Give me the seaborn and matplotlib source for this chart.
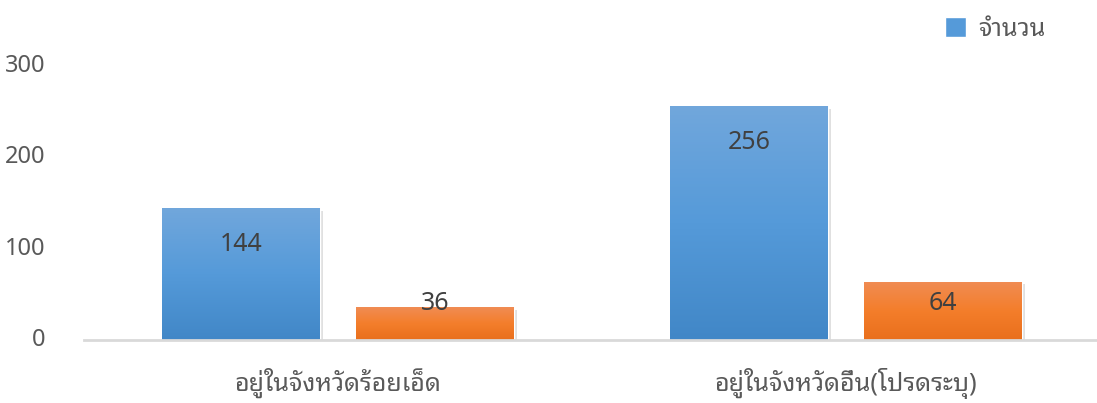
import numpy as np
import pandas as pd
import seaborn as sns
import matplotlib
matplotlib.use("Agg")
import matplotlib.pyplot as plt
import matplotlib.patheffects as pe
import matplotlib.transforms as mtransforms
from matplotlib.colors import LinearSegmentedColormap
from matplotlib.patches import Patch

# data
categories = ["อยู่ในจังหวัดร้อยเอ็ด", "อยู่ในจังหวัดอื่น(โปรดระบุ)"]
series = ["จำนวน", "ร้อยละ"]
counts = [144, 256]
percents = [36, 64]

df = pd.DataFrame({
    "ที่อยู่": categories * 2,
    "ค่า": counts + percents,
    "ชุด": [series[0]] * 2 + [series[1]] * 2,
})

sns.set_style("white")
plt.rcParams["font.family"] = ["Noto Sans Thai Looped", "Noto Sans", "DejaVu Sans"]

blue = "#559ad9"
orange = "#f27e2c"
grads = [
    LinearSegmentedColormap.from_list("b", ["#4187c7", "#559ad9", "#71a7dc"]),
    LinearSegmentedColormap.from_list("o", ["#e96f1c", "#f47e2b", "#f08c54"]),
]

fig = plt.figure(figsize=(10.97, 4.03), dpi=100)
ax = fig.add_axes([84 / 1097, 63 / 403, 1016 / 1097, 274 / 403])

sns.barplot(data=df, x="ที่อยู่", y="ค่า", hue="ชุด", hue_order=series,
            palette=[blue, orange], width=0.764, gap=0.186, legend=False,
            saturation=1, ax=ax)

# gradient fill + soft shadow
g = np.linspace(0, 1, 256).reshape(-1, 1)
for i, cont in enumerate(ax.containers):
    for p in cont.patches:
        p.set_path_effects([pe.SimplePatchShadow(offset=(2, -2), shadow_rgbFace="#000000", alpha=0.12), pe.Normal()])
        x0, w, h = p.get_x(), p.get_width(), p.get_height()
        im = ax.imshow(g, extent=[x0, x0 + w, 0, h], origin="lower", aspect="auto",
                       cmap=grads[i], zorder=p.get_zorder() + 0.1)
        im.set_clip_path(p)

# data labels: blue inside end, orange near base
for i, cont in enumerate(ax.containers):
    for p, v in zip(cont.patches, cont.datavalues):
        xc = p.get_x() + p.get_width() / 2
        if i == 0:
            ax.annotate(f"{v:.0f}", (xc, p.get_height()), xytext=(0, -36), textcoords="offset pixels",
                        ha="center", va="center", fontsize=18, color="#404040", zorder=5)
        else:
            ax.annotate(f"{v:.0f}", (xc, 0), xytext=(0, 36), textcoords="offset pixels",
                        ha="center", va="center", fontsize=18, color="#404040", zorder=5)

ax.set_xlim(-0.5, 1.5)
ax.set_ylim(0, 300)
ax.set_yticks([0, 100, 200, 300])
ax.set_xlabel("")
ax.set_ylabel("")
ax.tick_params(axis="y", length=0, pad=28, labelsize=17, labelcolor="#595959")
ax.tick_params(axis="x", length=0, pad=20, labelsize=18, labelcolor="#595959")
up = mtransforms.ScaledTranslation(0, 3 / 100, fig.dpi_scale_trans)
for lbl in ax.get_yticklabels():
    lbl.set_transform(lbl.get_transform() + up)
for s in ["top", "right", "left"]:
    ax.spines[s].set_visible(False)
ax.spines["bottom"].set_color("#d9d9d9")
ax.spines["bottom"].set_linewidth(2)

fig.legend(handles=[Patch(facecolor=blue, label=series[0])], loc="center left",
           bbox_to_anchor=(922 / 1097, 1 - 29 / 403), frameon=False, fontsize=18,
           handlelength=0.85, handleheight=0.85, handletextpad=0.5, labelcolor="#595959")

fig.savefig("out.png")
